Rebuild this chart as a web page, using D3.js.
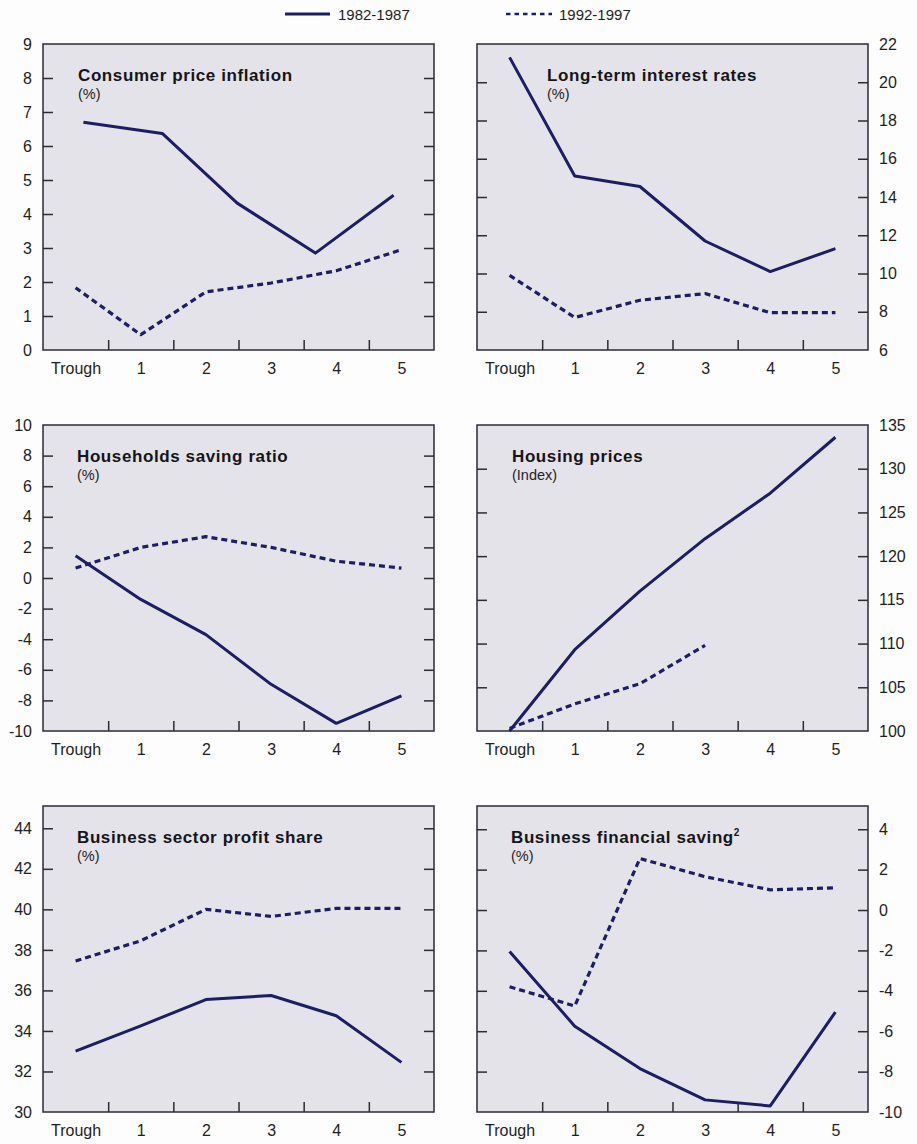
<!DOCTYPE html>
<html>
<head>
<meta charset="utf-8">
<script src="https://cdn.jsdelivr.net/npm/d3@7"></script>
<style>
  html, body { margin: 0; padding: 0; background: #fdfdfd; }
  svg { display: block; }
  .tick-label { font-family: "Liberation Sans", Arial, Helvetica, sans-serif; font-size: 16px; fill: #1e1e22; }
  .title { font-family: "Liberation Sans", Arial, Helvetica, sans-serif; font-size: 17px; font-weight: bold; fill: #151518; letter-spacing: 0.6px; }
  .unit { font-family: "Liberation Sans", Arial, Helvetica, sans-serif; font-size: 14.5px; fill: #1e1e22; }
  .legend { font-family: "Liberation Sans", Arial, Helvetica, sans-serif; font-size: 15px; fill: #1e1e22; }
</style>
</head>
<body>
<svg id="chart" width="917" height="1144"></svg>
<script>
// Years after the cyclical trough
const categories = ["Trough", "1", "2", "3", "4", "5"];
const seriesNames = ["1982-1987", "1992-1997"];

// Consumer price inflation (%)
const cpiYears82 = [0.12, 1.33, 2.48, 3.68, 4.88];
const cpi82 = [6.7, 6.37, 4.32, 2.85, 4.55];
const cpiYears92 = [0, 1, 2, 3, 4, 5];
const cpi92 = [1.83, 0.45, 1.71, 1.97, 2.33, 2.95];

// Long-term interest rates (%)
const rateYears = [0, 1, 2, 3, 4, 5];
const rates82 = [21.3, 15.1, 14.55, 11.7, 10.1, 11.3];
const rates92 = [9.9, 7.7, 8.6, 8.95, 7.95, 7.95];

// Households saving ratio (%)
const savingYears = [0, 1, 2, 3, 4, 5];
const saving82 = [1.45, -1.4, -3.7, -6.95, -9.5, -7.7];
const saving92 = [0.65, 2.0, 2.7, 2.0, 1.1, 0.65];

// Housing prices (index, trough = 100)
const houseYears82 = [0, 1, 2, 3, 4, 5];
const house82 = [100, 109.3, 116.0, 122.0, 127.2, 133.6];
const houseYears92 = [0, 1, 2, 3];
const house92 = [100.3, 103.1, 105.4, 109.8];

// Business sector profit share (%)
const profitYears = [0, 1, 2, 3, 4, 5];
const profit82 = [33.0, 34.25, 35.55, 35.75, 34.75, 32.45];
const profit92 = [37.45, 38.45, 40.0, 39.65, 40.05, 40.05];

// Business financial saving (%)
const bizYears = [0, 1, 2, 3, 4, 5];
const biz82 = [-2.05, -5.75, -7.85, -9.4, -9.7, -5.05];
const biz92 = [-3.8, -4.75, 2.55, 1.65, 1.0, 1.1];

// Y axis ticks
const cpiTicks = d3.range(0, 10, 1);
const rateTicks = d3.range(6, 23, 2);
const savingTicks = d3.range(-10, 11, 2);
const houseTicks = d3.range(100, 136, 5);
const profitTicks = d3.range(30, 45, 2);
const bizTicks = d3.range(-10, 5, 2);

const panels = [
  { title: "Consumer price inflation", sup: "", unit: "(%)", col: 0, row: 0, domain: [0, 9], ticks: cpiTicks, titleDx: 35,
    series: [{ x: cpiYears82, y: cpi82 }, { x: cpiYears92, y: cpi92 }] },
  { title: "Long-term interest rates", sup: "", unit: "(%)", col: 1, row: 0, domain: [6, 22], ticks: rateTicks, titleDx: 70,
    series: [{ x: rateYears, y: rates82 }, { x: rateYears, y: rates92 }] },
  { title: "Households saving ratio", sup: "", unit: "(%)", col: 0, row: 1, domain: [-10, 10], ticks: savingTicks, titleDx: 34,
    series: [{ x: savingYears, y: saving82 }, { x: savingYears, y: saving92 }] },
  { title: "Housing prices", sup: "", unit: "(Index)", col: 1, row: 1, domain: [100, 135], ticks: houseTicks, titleDx: 35,
    series: [{ x: houseYears82, y: house82 }, { x: houseYears92, y: house92 }] },
  { title: "Business sector profit share", sup: "", unit: "(%)", col: 0, row: 2, domain: [30, 45.1], ticks: profitTicks, titleDx: 34,
    series: [{ x: profitYears, y: profit82 }, { x: profitYears, y: profit92 }] },
  { title: "Business financial saving", sup: "2", unit: "(%)", col: 1, row: 2, domain: [-10, 5.15], ticks: bizTicks, titleDx: 34,
    series: [{ x: bizYears, y: biz82 }, { x: bizYears, y: biz92 }] }
];

const svg = d3.select("#chart");
const lineColor = "#1b1d66";
const frameColor = "#2b2b36";
const plotFill = "#e4e3ea";
const colX = [43, 477];
const rowY = [44, 425, 806];
const plotW = 391, plotH = 306;
const tickLen = 10;
const dashes = [null, "6,4"];

// Legend
const legend = svg.append("g");
[[285, 330, 338], [506, 552, 559]].forEach((p, i) => {
  legend.append("line").attr("x1", p[0]).attr("x2", p[1]).attr("y1", 14).attr("y2", 14)
    .attr("stroke", lineColor).attr("stroke-width", i === 0 ? 3 : 2.6)
    .attr("stroke-dasharray", i === 0 ? null : "4.5,4");
  legend.append("text").attr("class", "legend").attr("x", p[2]).attr("y", 20).text(seriesNames[i]);
});

panels.forEach(p => {
  const x0 = colX[p.col], y0 = rowY[p.row];
  const g = svg.append("g").attr("transform", `translate(${x0},${y0})`);

  const x = d3.scaleLinear().domain([-0.5, categories.length - 0.5]).range([0, plotW]);
  const y = d3.scaleLinear().domain(p.domain).range([plotH, 0]);

  g.append("rect").attr("width", plotW).attr("height", plotH).attr("fill", plotFill);

  // Inward ticks on both vertical edges
  const inner = p.ticks.filter(t => t > p.domain[0] && t < p.domain[1]);
  const leftAxis = d3.axisRight(y).tickValues(inner).tickSize(tickLen).tickFormat("");
  const rightAxis = d3.axisLeft(y).tickValues(inner).tickSize(tickLen).tickFormat("");
  [g.append("g").call(leftAxis), g.append("g").attr("transform", `translate(${plotW},0)`).call(rightAxis)]
    .forEach(a => {
      a.select(".domain").remove();
      a.selectAll("line").attr("stroke", frameColor).attr("stroke-width", 1.5);
    });

  // Tick labels on the outer side (plain hyphen for negatives)
  const labelAxis = p.col === 0 ? d3.axisLeft(y) : d3.axisRight(y);
  const la = g.append("g").attr("transform", p.col === 0 ? "translate(0,0)" : `translate(${plotW},0)`)
    .call(labelAxis.tickValues(p.ticks).tickSize(0).tickPadding(11).tickFormat(d => String(d)));
  la.select(".domain").remove();
  la.selectAll("text").attr("class", "tick-label").attr("font-size", null).attr("font-family", null);

  // Category axis: ticks between bands, labels at band centres
  const bounds = d3.range(0.5, categories.length - 1, 1);
  const xa = g.append("g").attr("transform", `translate(0,${plotH})`)
    .call(d3.axisTop(x).tickValues(bounds).tickSize(tickLen).tickFormat(""));
  xa.select(".domain").remove();
  xa.selectAll("line").attr("stroke", frameColor).attr("stroke-width", 1.5);

  const xl = g.append("g").attr("transform", `translate(0,${plotH})`)
    .call(d3.axisBottom(x).tickValues(d3.range(categories.length)).tickSize(0).tickPadding(10)
      .tickFormat(i => categories[i]));
  xl.select(".domain").remove();
  xl.selectAll("text").attr("class", "tick-label").attr("font-size", null).attr("font-family", null)
    .attr("dy", "0.85em");

  // Frame
  g.append("rect").attr("width", plotW).attr("height", plotH).attr("fill", "none")
    .attr("stroke", frameColor).attr("stroke-width", 1.5);

  // Title and unit
  const t = g.append("text").attr("class", "title").attr("x", p.titleDx).attr("y", 37).text(p.title);
  if (p.sup) t.append("tspan").attr("dy", -7).attr("font-size", 10).text(p.sup);
  g.append("text").attr("class", "unit").attr("x", p.titleDx).attr("y", 55).text(p.unit);

  // Series lines
  const line = d3.line().x(d => x(d[0])).y(d => y(d[1]));
  p.series.forEach((s, i) => {
    const pts = s.x.map((v, k) => [v, s.y[k]]);
    g.append("path").attr("d", line(pts)).attr("fill", "none")
      .attr("stroke", lineColor).attr("stroke-width", i === 0 ? 3 : 3.2)
      .attr("stroke-linejoin", "round")
      .attr("stroke-dasharray", dashes[i]);
  });
});
</script>
</body>
</html>
